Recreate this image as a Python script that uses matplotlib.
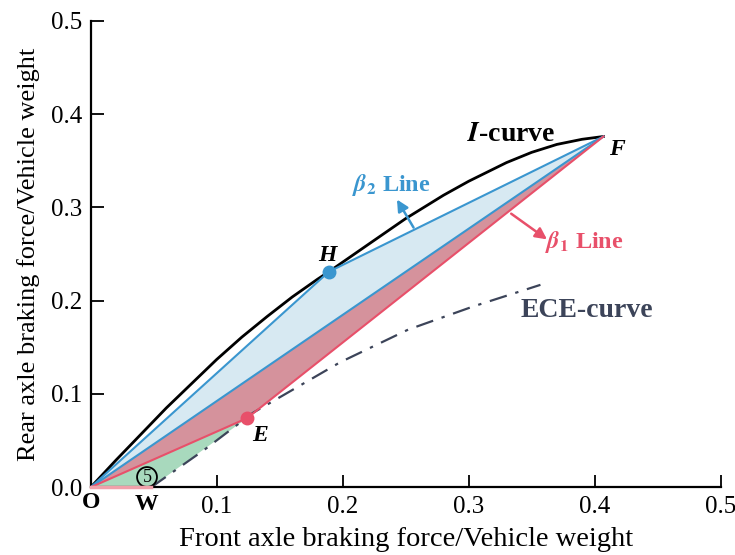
import matplotlib
matplotlib.use("Agg")
import matplotlib.pyplot as plt

plt.rcParams['font.family'] = ['Liberation Serif', 'DejaVu Serif']
plt.rcParams['mathtext.fontset'] = 'stix'

# key points (front / rear braking force over weight)
O = (0.0, 0.0)
W = (0.048, 0.0)
E = (0.124, 0.074)
H = (0.189, 0.231)
F = (0.407, 0.376)

# I-curve
i_x = [0.0, 0.02, 0.04, 0.06, 0.08, 0.10, 0.12, 0.14, 0.16, 0.18, 0.189,
       0.22, 0.25, 0.28, 0.30, 0.33, 0.35, 0.37, 0.39, 0.407]
i_y = [0.0, 0.029, 0.057, 0.085, 0.111, 0.137, 0.161, 0.183, 0.204, 0.223, 0.231,
       0.260, 0.288, 0.313, 0.328, 0.348, 0.359, 0.3675, 0.373, 0.376]

# ECE-curve
ece_x = [0.048, 0.090, 0.129, 0.198, 0.252, 0.304, 0.357]
ece_y = [0.0, 0.040, 0.080, 0.134, 0.169, 0.194, 0.217]

blue = '#3a96cf'
red = '#e8506a'
slate = '#3c4459'

fig = plt.figure(figsize=(7.35, 5.55), dpi=100)
ax = fig.add_axes([0.1234, 0.122, 0.857, 0.8405])

# fills
ax.fill([O[0], H[0], F[0]], [O[1], H[1], F[1]], color='#d7e9f2', lw=0, zorder=1)
ax.fill([O[0], F[0], E[0]], [O[1], F[1], E[1]], color='#d5929c', lw=0, zorder=1)
ax.fill([O[0], E[0], W[0]], [O[1], E[1], W[1]], color='#a8d9bd', lw=0, zorder=1)

ax.plot(ece_x, ece_y, color=slate, lw=1.6, dashes=[8, 4, 1.5, 4], zorder=2)
ax.plot(i_x, i_y, color='black', lw=2.0, zorder=3, solid_joinstyle='round')

# beta2 line O-H-F and reference O-F
ax.plot([O[0], H[0], F[0]], [O[1], H[1], F[1]], color=blue, lw=1.5, zorder=4)
ax.plot([O[0], F[0]], [O[1], F[1]], color=blue, lw=1.5, zorder=4)
# beta1 line O-E-F
ax.plot([O[0], E[0], F[0]], [O[1], E[1], F[1]], color=red, lw=1.5, zorder=4)
ax.plot([O[0], W[0]], [O[1], W[1]], color='#f0a0aa', lw=2.5, zorder=4, clip_on=False)

ax.plot(*H, 'o', color=blue, ms=9, zorder=5)
ax.plot(*E, 'o', color=red, ms=9, zorder=5)

# arrows
ax.annotate('', xy=(0.242, 0.311), xytext=(0.2574, 0.2758),
            arrowprops=dict(arrowstyle='-|>', color=blue, lw=1.8, mutation_scale=17))
ax.annotate('', xy=(0.364, 0.264), xytext=(0.332, 0.295),
            arrowprops=dict(arrowstyle='-|>', color=red, lw=1.8, mutation_scale=17))

# text
ax.text(0.239, 0.324, r'$\boldsymbol{\beta}_{\boldsymbol{2}}$' + ' Line', color=blue,
        fontsize=17.5, fontweight='bold', ha='center', va='center')
ax.text(0.392, 0.263, r'$\boldsymbol{\beta}_{\boldsymbol{1}}$' + ' Line', color=red,
        fontsize=17.5, fontweight='bold', ha='center', va='center')
ax.text(0.334, 0.378, r'$\boldsymbol{I}$' + '-curve', fontsize=20, fontweight='bold',
        ha='center', va='center')
ax.text(0.394, 0.190, 'ECE-curve', color=slate, fontsize=20, fontweight='bold',
        ha='center', va='center')
for s, x, y in [('F', 0.418, 0.362), ('H', 0.188, 0.248), ('E', 0.1345, 0.056)]:
    ax.text(x, y, s, fontsize=17, fontweight='bold', fontstyle='italic', ha='center', va='center')
ax.text(0.0, -0.016, 'O', fontsize=17, fontweight='bold', ha='center', va='center')
ax.text(0.044, -0.018, 'W', fontsize=17, fontweight='bold', ha='center', va='center')
ax.text(0.0447, 0.011, '5', fontsize=13, ha='center', va='center',
        bbox=dict(boxstyle='circle,pad=0.08', fc='none', ec='black', lw=1.3))

ax.set_xlim(0, 0.5)
ax.set_ylim(0, 0.5)
ax.set_xticks([0.1, 0.2, 0.3, 0.4, 0.5])
ax.set_yticks([0.0, 0.1, 0.2, 0.3, 0.4, 0.5])
ax.set_yticklabels(['0.0', '0.1', '0.2', '0.3', '0.4', '0.5'])
ax.tick_params(direction='in', length=9, width=1.3, labelsize=18, pad=6)
ax.spines['top'].set_visible(False)
ax.spines['right'].set_visible(False)
ax.spines['left'].set_linewidth(1.6)
ax.spines['bottom'].set_linewidth(1.6)
ax.set_xlabel('Front axle braking force/Vehicle weight', fontsize=20.5)
ax.set_ylabel('Rear axle braking force/Vehicle weight', fontsize=19)
ax.xaxis.set_label_coords(0.5, -0.085)
ax.yaxis.set_label_coords(-0.08, 0.5)

fig.savefig('out.png', dpi=100)
